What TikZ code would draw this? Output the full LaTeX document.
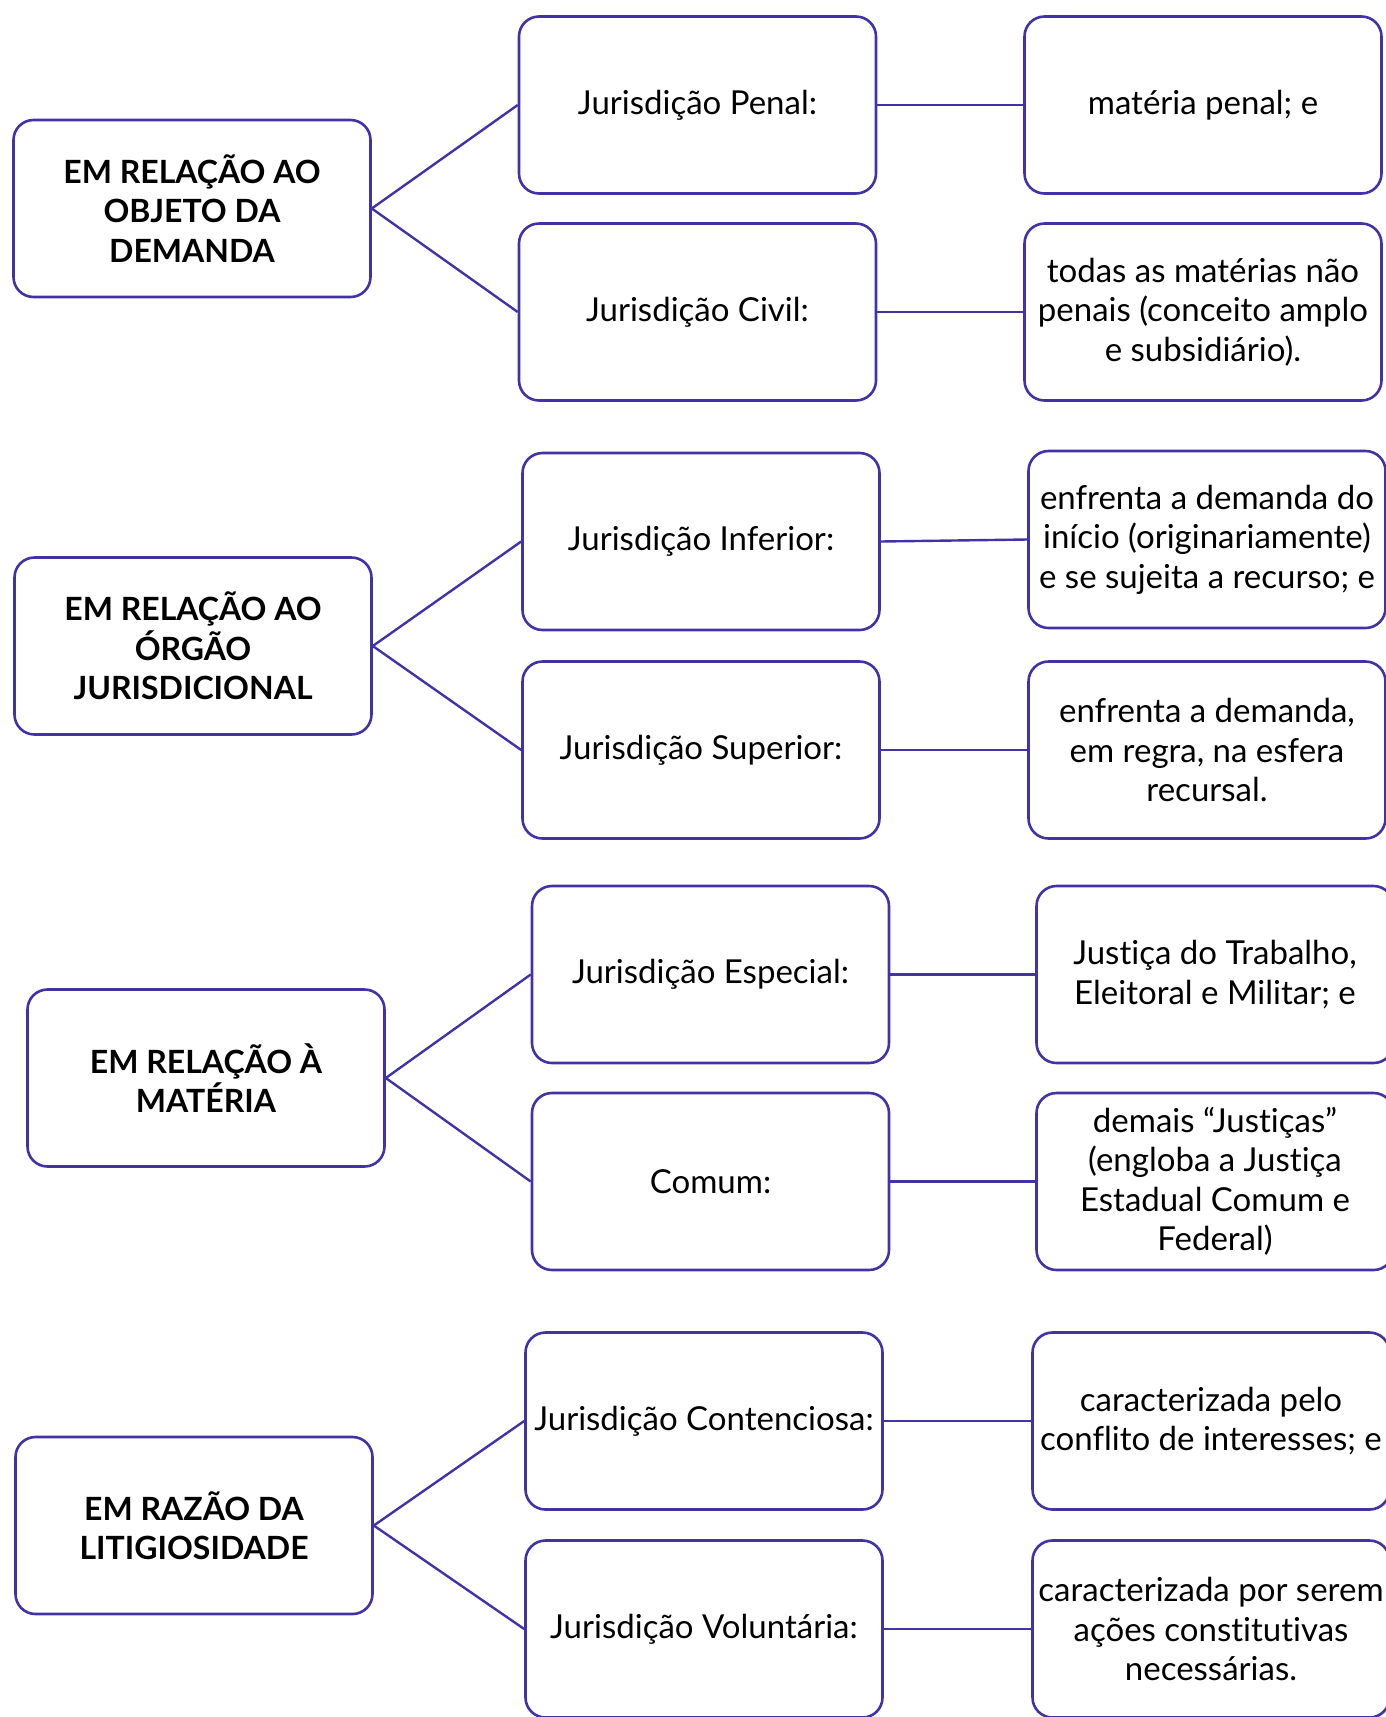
\documentclass[tikz,border=0pt]{standalone}
\usepackage{fontspec}
\setmainfont[Ligatures=NoCommon]{Lato}
\definecolor{lineblue}{RGB}{66,50,168}
\begin{document}
\begin{tikzpicture}[x=1pt,y=-1pt,
  box/.style={draw=lineblue, line width=2.6pt, rounded corners=20pt, fill=white,
    minimum width=357, minimum height=177, align=center, inner sep=2pt,
    font=\fontsize{33}{39.5}\selectfont},
  headbox/.style={box, font=\fontsize{32}{39.5}\selectfont\bfseries},
  conn/.style={draw=lineblue, line width=2.4pt}]
\path[use as bounding box] (0,0) rectangle (1386,1717);

% Section 1
\node[headbox] (h1) at (192,208.5) {EM RELAÇÃO AO\\OBJETO DA\\DEMANDA};
\node[box] (m11) at (697.5,105) {Jurisdição Penal:};
\node[box] (m12) at (697.5,312) {Jurisdição Civil:};
\node[box] (r11) at (1203,105) {matéria penal; e};
\node[box] (r12) at (1203,312) {todas as matérias não\\penais (conceito amplo\\e subsidiário).};

% Section 2
\node[headbox] (h2) at (193,646) {EM RELAÇÃO AO\\ÓRGÃO\\JURISDICIONAL};
\node[box] (m21) at (701,541.5) {Jurisdição Inferior:};
\node[box] (m22) at (701,750) {Jurisdição Superior:};
\node[box] (r21) at (1207,539.5) {enfrenta a demanda do\\início (originariamente)\\e se sujeita a recurso; e};
\node[box] (r22) at (1207,750) {enfrenta a demanda,\\em regra, na esfera\\recursal.};

% Section 3
\node[headbox] (h3) at (206,1078) {EM RELAÇÃO À\\MATÉRIA};
\node[box] (m31) at (710.5,974.5) {Jurisdição Especial:};
\node[box] (m32) at (710.5,1181.5) {Comum:};
\node[box] (r31) at (1215,974.5) {Justiça do Trabalho,\\Eleitoral e Militar; e};
\node[box] (r32) at (1215,1181.5) {demais “Justiças”\\(engloba a Justiça\\Estadual Comum e\\Federal)};

% Section 4
\node[headbox] (h4) at (194,1525.5) {EM RAZÃO DA\\LITIGIOSIDADE};
\node[box] (m41) at (704,1421) {Jurisdição Contenciosa:};
\node[box] (m42) at (704,1629) {Jurisdição Voluntária:};
\node[box] (r41) at (1211,1421) {caracterizada pelo\\conflito de interesses; e};
\node[box] (r42) at (1211,1629) {caracterizada por serem\\ações constitutivas\\necessárias.};

\foreach \s in {1,2,3,4}{
  \draw[conn] (h\s.east) -- (m\s1.west);
  \draw[conn] (h\s.east) -- (m\s2.west);
  \draw[conn] (m\s1.east) -- (r\s1.west);
  \draw[conn] (m\s2.east) -- (r\s2.west);
}
\end{tikzpicture}
\end{document}
